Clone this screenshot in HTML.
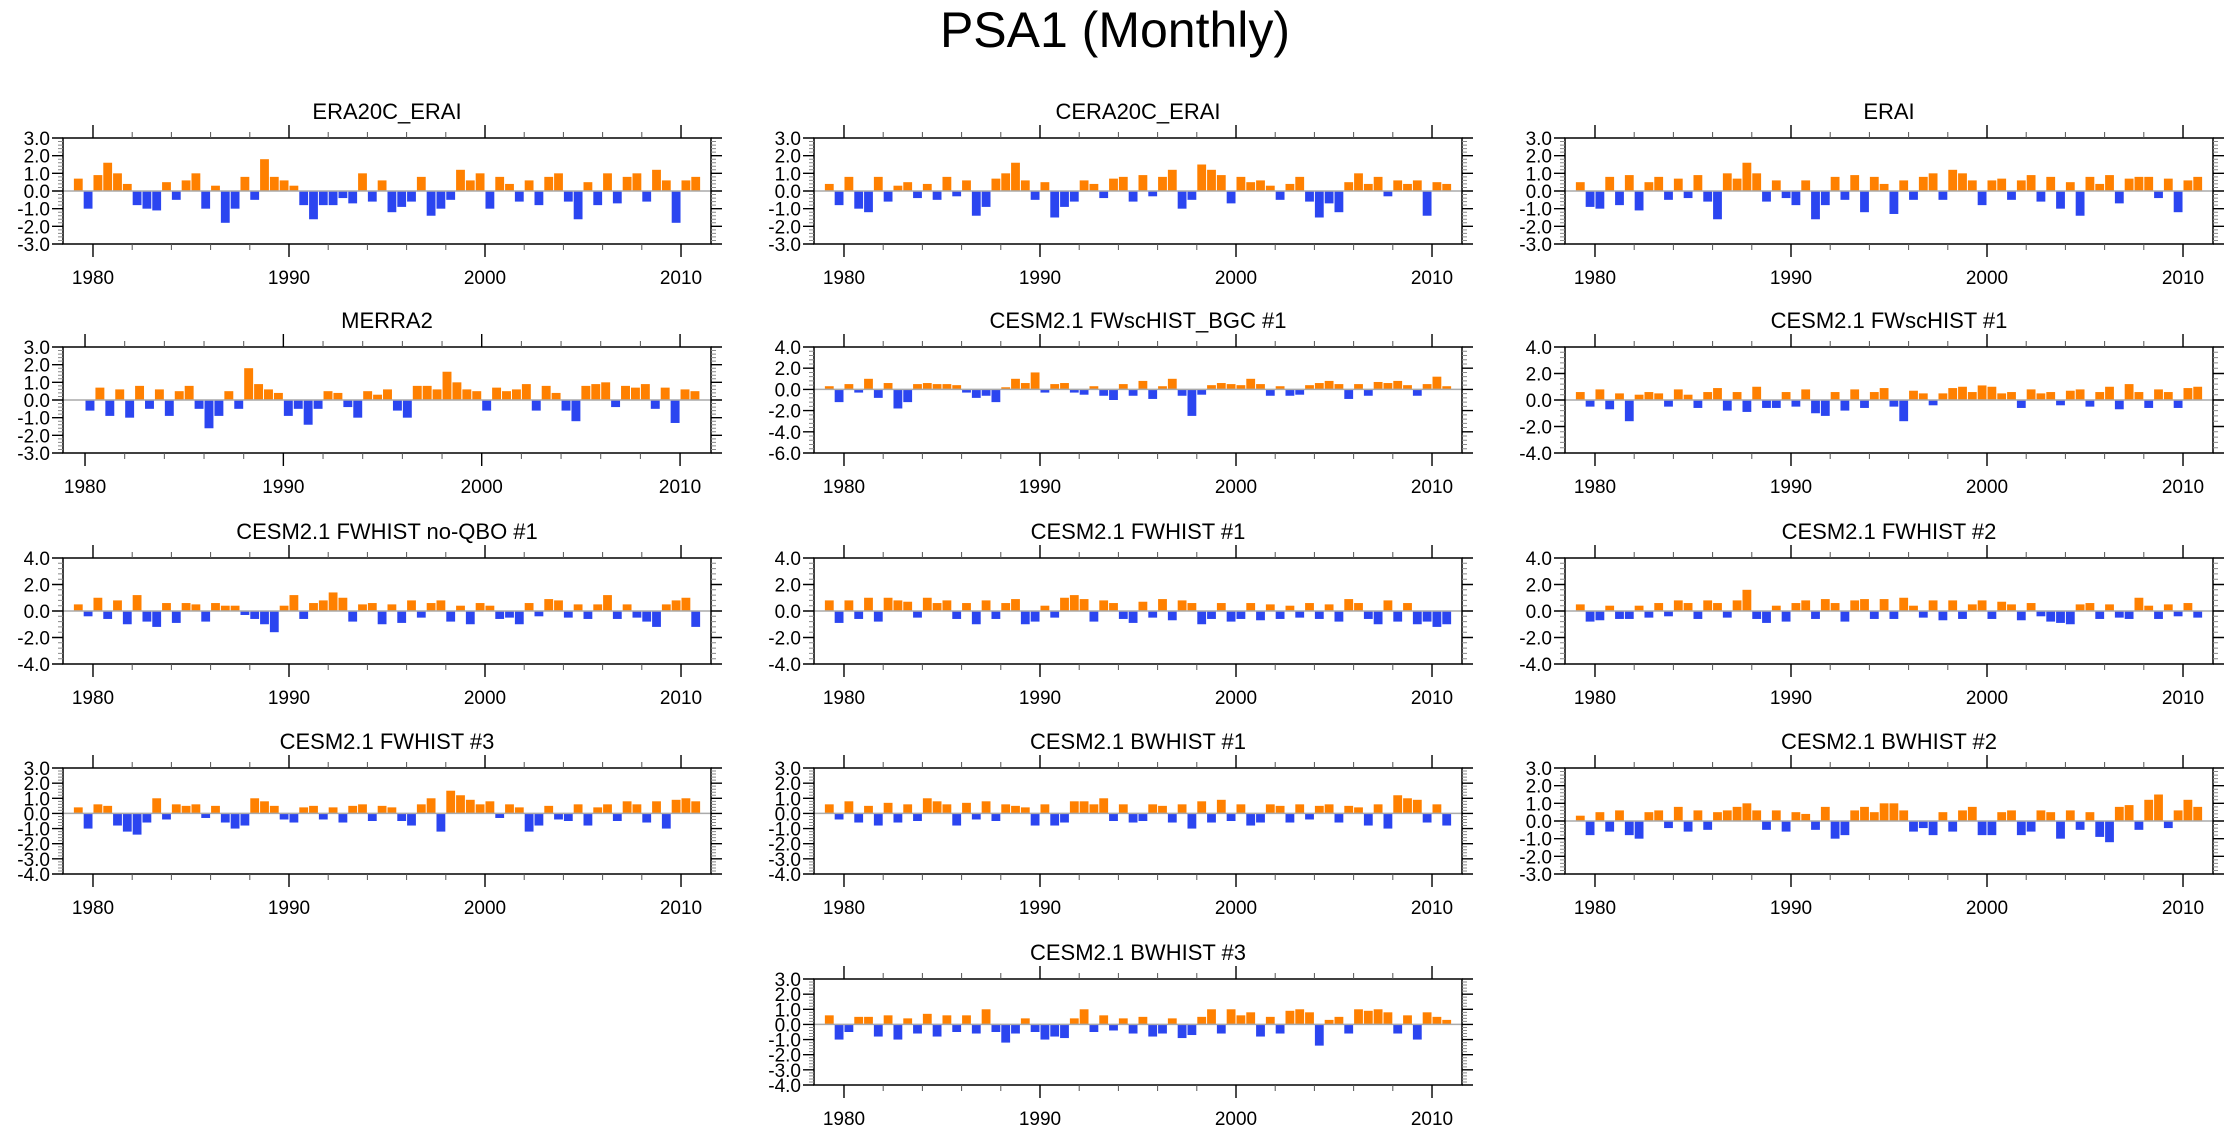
<!DOCTYPE html>
<html>
<head>
<meta charset="utf-8">
<style>
html,body{margin:0;padding:0;background:#fff;}
svg{display:block;font-family:"Liberation Sans",Arial,sans-serif;}
</style>
</head>
<body>
<svg id="chart" width="2230" height="1133" viewBox="0 0 2230 1133" xmlns="http://www.w3.org/2000/svg">
<rect x="0" y="0" width="2230" height="1133" fill="#fff"/>
<text x="1115" y="47" font-size="50" text-anchor="middle" fill="#000">PSA1 (Monthly)</text>
</svg>
<script>
// Half-year PSA1 index values (1979a,1979b,...,2010b)
const era20cErai = [0.7,-1.0,0.9,1.6,1.0,0.4,-0.8,-1.0,-1.1,0.5,-0.5,0.6,1.0,-1.0,0.3,-1.8,-1.0,0.8,-0.5,1.8,0.8,0.6,0.3,-0.8,-1.6,-0.8,-0.8,-0.4,-0.7,1.0,-0.6,0.6,-1.2,-0.9,-0.6,0.8,-1.4,-1.0,-0.5,1.2,0.6,1.0,-1.0,0.8,0.4,-0.6,0.6,-0.8,0.8,1.0,-0.6,-1.6,0.5,-0.8,1.0,-0.7,0.8,1.0,-0.6,1.2,0.6,-1.8,0.6,0.8];
const cera20cErai = [0.4,-0.8,0.8,-1.0,-1.2,0.8,-0.6,0.3,0.5,-0.4,0.4,-0.5,0.8,-0.3,0.6,-1.4,-0.9,0.7,1.0,1.6,0.6,-0.5,0.5,-1.5,-0.9,-0.6,0.6,0.4,-0.4,0.7,0.8,-0.6,0.9,-0.3,0.8,1.2,-1.0,-0.5,1.5,1.2,0.9,-0.7,0.8,0.5,0.6,0.3,-0.5,0.4,0.8,-0.6,-1.5,-0.7,-1.2,0.5,1.0,0.4,0.8,-0.3,0.6,0.4,0.6,-1.4,0.5,0.4];
const erai = [0.5,-0.9,-1.0,0.8,-0.8,0.9,-1.1,0.5,0.8,-0.5,0.7,-0.4,0.9,-0.6,-1.6,1.0,0.7,1.6,1.0,-0.6,0.6,-0.4,-0.8,0.6,-1.6,-0.8,0.8,-0.5,0.9,-1.2,0.8,0.4,-1.3,0.6,-0.5,0.8,1.0,-0.5,1.2,1.0,0.6,-0.8,0.6,0.7,-0.5,0.6,0.9,-0.6,0.8,-1.0,0.5,-1.4,0.8,0.4,0.9,-0.7,0.7,0.8,0.8,-0.4,0.7,-1.2,0.6,0.8];
const merra2 = [-0.6,0.7,-0.9,0.6,-1.0,0.8,-0.5,0.6,-0.9,0.5,0.8,-0.5,-1.6,-0.9,0.5,-0.5,1.8,0.9,0.6,0.4,-0.9,-0.5,-1.4,-0.5,0.5,0.4,-0.4,-1.0,0.5,0.3,0.6,-0.6,-1.0,0.8,0.8,0.6,1.6,1.0,0.6,0.5,-0.6,0.7,0.5,0.6,0.9,-0.6,0.8,0.4,-0.6,-1.2,0.8,0.9,1.0,-0.4,0.8,0.7,0.9,-0.5,0.7,-1.3,0.6,0.5];
const fwscHistBgc1 = [0.3,-1.2,0.5,-0.3,1.0,-0.8,0.6,-1.8,-1.2,0.5,0.6,0.5,0.5,0.4,-0.3,-0.8,-0.6,-1.2,0.2,1.0,0.6,1.6,-0.3,0.5,0.6,-0.3,-0.5,0.3,-0.6,-1.0,0.5,-0.6,0.8,-0.9,0.3,1.0,-0.6,-2.5,-0.5,0.4,0.6,0.5,0.4,1.0,0.5,-0.6,0.3,-0.6,-0.5,0.4,0.6,0.8,0.5,-0.9,0.5,-0.6,0.7,0.6,0.8,0.4,-0.6,0.5,1.2,0.3];
const fwscHist1 = [0.6,-0.5,0.8,-0.7,0.5,-1.6,0.4,0.6,0.5,-0.5,0.8,0.4,-0.6,0.6,0.9,-0.8,0.6,-0.9,1.0,-0.6,-0.6,0.6,-0.5,0.8,-1.0,-1.2,0.6,-0.8,0.8,-0.6,0.6,0.9,-0.5,-1.6,0.7,0.5,-0.4,0.5,0.9,1.0,0.6,1.1,1.0,0.5,0.6,-0.6,0.8,0.5,0.6,-0.4,0.7,0.8,-0.5,0.6,1.0,-0.7,1.2,0.6,-0.6,0.8,0.6,-0.6,0.9,1.0];
const fwHistNoQbo1 = [0.5,-0.4,1.0,-0.6,0.8,-1.0,1.2,-0.8,-1.2,0.6,-0.9,0.6,0.5,-0.8,0.6,0.4,0.4,-0.3,-0.6,-1.0,-1.6,0.4,1.2,-0.6,0.6,0.8,1.4,1.0,-0.8,0.5,0.6,-1.0,0.5,-0.9,0.8,-0.5,0.6,0.8,-0.8,0.4,-1.0,0.6,0.4,-0.6,-0.5,-1.0,0.6,-0.4,0.9,0.8,-0.5,0.5,-0.6,0.5,1.2,-0.6,0.5,-0.5,-0.8,-1.2,0.5,0.8,1.0,-1.2];
const fwHist1 = [0.8,-0.9,0.8,-0.6,1.0,-0.8,1.0,0.8,0.7,-0.5,1.0,0.6,0.8,-0.6,0.6,-1.0,0.8,-0.6,0.6,0.9,-1.0,-0.8,0.4,-0.5,1.0,1.2,0.9,-0.8,0.8,0.6,-0.6,-0.9,0.7,-0.5,0.9,-0.7,0.8,0.6,-1.0,-0.6,0.6,-0.8,-0.6,0.6,-0.7,0.5,-0.6,0.4,-0.5,0.6,-0.6,0.5,-0.8,0.9,0.6,-0.6,-1.0,0.8,-0.8,0.6,-1.0,-0.8,-1.2,-1.0];
const fwHist2 = [0.5,-0.8,-0.7,0.4,-0.6,-0.6,0.4,-0.5,0.6,-0.4,0.8,0.6,-0.6,0.8,0.6,-0.5,0.8,1.6,-0.6,-0.9,0.4,-0.8,0.6,0.8,-0.6,0.9,0.6,-0.8,0.8,0.9,-0.6,0.9,-0.6,1.0,0.4,-0.5,0.8,-0.7,0.8,-0.6,0.5,0.8,-0.6,0.7,0.5,-0.7,0.6,-0.4,-0.8,-0.9,-1.0,0.5,0.6,-0.6,0.5,-0.5,-0.6,1.0,0.4,-0.6,0.5,-0.4,0.6,-0.5];
const fwHist3 = [0.4,-1.0,0.6,0.5,-0.8,-1.2,-1.4,-0.6,1.0,-0.4,0.6,0.5,0.6,-0.3,0.5,-0.6,-1.0,-0.8,1.0,0.8,0.5,-0.4,-0.6,0.4,0.5,-0.4,0.4,-0.6,0.5,0.6,-0.5,0.5,0.4,-0.5,-0.8,0.6,1.0,-1.2,1.5,1.2,0.9,0.6,0.8,-0.3,0.6,0.4,-1.2,-0.8,0.5,-0.4,-0.5,0.6,-0.8,0.4,0.6,-0.5,0.8,0.6,-0.6,0.8,-1.0,0.9,1.0,0.8];
const bwHist1 = [0.6,-0.4,0.8,-0.6,0.5,-0.8,0.7,-0.6,0.6,-0.5,1.0,0.8,0.6,-0.8,0.7,-0.4,0.8,-0.5,0.6,0.5,0.4,-0.8,0.6,-0.8,-0.6,0.8,0.8,0.6,1.0,-0.5,0.6,-0.6,-0.5,0.6,0.5,-0.6,0.6,-1.0,0.8,-0.6,0.9,-0.5,0.6,-0.8,-0.6,0.6,0.5,-0.6,0.6,-0.4,0.5,0.6,-0.6,0.5,0.4,-0.8,0.6,-1.0,1.2,1.0,0.9,-0.6,0.6,-0.8];
const bwHist2 = [0.3,-0.8,0.5,-0.6,0.6,-0.8,-1.0,0.5,0.6,-0.4,0.8,-0.6,0.6,-0.5,0.5,0.6,0.8,1.0,0.6,-0.5,0.6,-0.6,0.5,0.4,-0.5,0.8,-1.0,-0.8,0.6,0.8,0.5,1.0,1.0,0.6,-0.6,-0.4,-0.8,0.5,-0.6,0.6,0.8,-0.8,-0.8,0.5,0.6,-0.8,-0.6,0.6,0.5,-1.0,0.6,-0.5,0.5,-0.9,-1.2,0.8,0.9,-0.5,1.2,1.5,-0.4,0.6,1.2,0.8];
const bwHist3 = [0.6,-1.0,-0.5,0.5,0.5,-0.8,0.6,-1.0,0.4,-0.6,0.7,-0.8,0.6,-0.5,0.6,-0.6,1.0,-0.5,-1.2,-0.6,0.4,-0.5,-1.0,-0.8,-0.9,0.4,1.0,-0.5,0.6,-0.4,0.4,-0.6,0.5,-0.8,-0.6,0.4,-0.9,-0.7,0.5,1.0,-0.6,1.0,0.6,0.8,-0.8,0.5,-0.6,0.9,1.0,0.8,-1.4,0.3,0.5,-0.6,1.0,0.9,1.0,0.8,-0.6,0.6,-1.0,0.8,0.5,0.3];

const panelTitles = ["ERA20C_ERAI","CERA20C_ERAI","ERAI","MERRA2","CESM2.1 FWscHIST_BGC #1","CESM2.1 FWscHIST #1","CESM2.1 FWHIST no-QBO #1","CESM2.1 FWHIST #1","CESM2.1 FWHIST #2","CESM2.1 FWHIST #3","CESM2.1 BWHIST #1","CESM2.1 BWHIST #2","CESM2.1 BWHIST #3"];
const panelSeries = [era20cErai,cera20cErai,erai,merra2,fwscHistBgc1,fwscHist1,fwHistNoQbo1,fwHist1,fwHist2,fwHist3,bwHist1,bwHist2,bwHist3];
const seriesStartYear = [1979,1979,1979,1980,1979,1979,1979,1979,1979,1979,1979,1979,1979];
const yAxisMin = [-3,-3,-3,-3,-6,-4,-4,-4,-4,-4,-4,-3,-4];
const yAxisMax = [3,3,3,3,4,4,4,4,4,3,3,3,3];
const yAxisStep = [1,1,1,1,2,2,2,2,2,1,1,1,1];
const xTickYears = [1980,1990,2000,2010];

const svg = document.getElementById('chart');
const NS = 'http://www.w3.org/2000/svg';
function mk(tag, attrs, parent){
  const e = document.createElementNS(NS, tag);
  for (const k in attrs) e.setAttribute(k, attrs[k]);
  (parent||svg).appendChild(e);
  return e;
}
const colX = [63, 814, 1565];
const boxW = 648;
const rowTop = [138, 347, 558, 768, 979];
const boxH = 106;
const slots = [[0,0],[0,1],[0,2],[1,0],[1,1],[1,2],[2,0],[2,1],[2,2],[3,0],[3,1],[3,2],[4,1]];

panelSeries.forEach((vals, p) => {
  const row = slots[p][0], col = slots[p][1];
  const L = colX[col], T = rowTop[row], W = boxW, H = boxH;
  const t0 = seriesStartYear[p] === 1980 ? 1978.89 : 1978.47;
  const t1 = seriesStartYear[p] === 1980 ? 2011.56 : 2011.53;
  const xs = t => L + (t - t0) / (t1 - t0) * W;
  const ymin = yAxisMin[p], ymax = yAxisMax[p], step = yAxisStep[p];
  const ys = v => T + (ymax - v) / (ymax - ymin) * H;

  const g = mk('g', {});
  
  

  const title = mk('text', {x: L + W/2, y: T - 19, 'font-size': 22, 'text-anchor': 'middle', fill: '#000'}, g);
  
  
  title.textContent = panelTitles[p];

  // bars
  const bw = (W / (t1 - t0)) * 0.5 * 0.9;
  vals.forEach((v, i) => {
    const tc = seriesStartYear[p] + i * 0.5 + 0.25;
    const x = xs(tc) - bw/2;
    const y0 = ys(0), y1 = ys(v);
    const r = mk('rect', {x: x.toFixed(2), y: Math.min(y0,y1).toFixed(2), width: bw.toFixed(2), height: Math.abs(y1-y0).toFixed(2), fill: v >= 0 ? '#FF8000' : '#2B45F0'}, g);
    
    
  });

  // zero line
  const z = mk('line', {x1: L, x2: L+W, y1: ys(0), y2: ys(0), stroke: '#aaa', 'stroke-width': 1.5}, g);
  
  

  // frame
  const f = mk('rect', {x: L, y: T, width: W, height: H, fill: 'none', stroke: '#000', 'stroke-width': 1.5}, g);
  
  

  // x ticks
  for (let yr = 1978; yr <= 2011; yr += 2) {
    const major = yr % 10 === 0;
    const x = xs(yr);
    if (x < L || x > L + W) continue;
    const len = major ? 13 : 6;
    const tk = mk('path', {d: `M${x},${T} v${-len} M${x},${T+H} v${len}`, stroke: major ? '#000' : '#555', 'stroke-width': major ? 1.4 : 1}, g);
    
    
  }
  xTickYears.forEach(yr => {
    const lb = mk('text', {x: xs(yr), y: T + H + 40, 'font-size': 19, 'text-anchor': 'middle', fill: '#000'}, g);
    
    
    lb.textContent = yr;
  });

  // y ticks
  const minorStep = step / 5;
  for (let k = 0; k <= Math.round((ymax - ymin) / minorStep); k++) {
    const v = ymin + k * minorStep;
    const y = ys(v);
    const major = k % 5 === 0;
    if (major) {
      const tk = mk('path', {d: `M${L},${y} h-11 M${L+W},${y} h11`, stroke: '#000', 'stroke-width': 1.4}, g);
      
      
      const lb = mk('text', {x: L - 13, y: y + 7, 'font-size': 19, 'text-anchor': 'end', fill: '#000'}, g);
      
      
      lb.textContent = v.toFixed(1);
    } else {
      const tk = mk('path', {d: `M${L},${y} h-5 M${L+W},${y} h5`, stroke: '#888', 'stroke-width': 1}, g);
      
      
    }
  }
});
</script>
</body>
</html>
